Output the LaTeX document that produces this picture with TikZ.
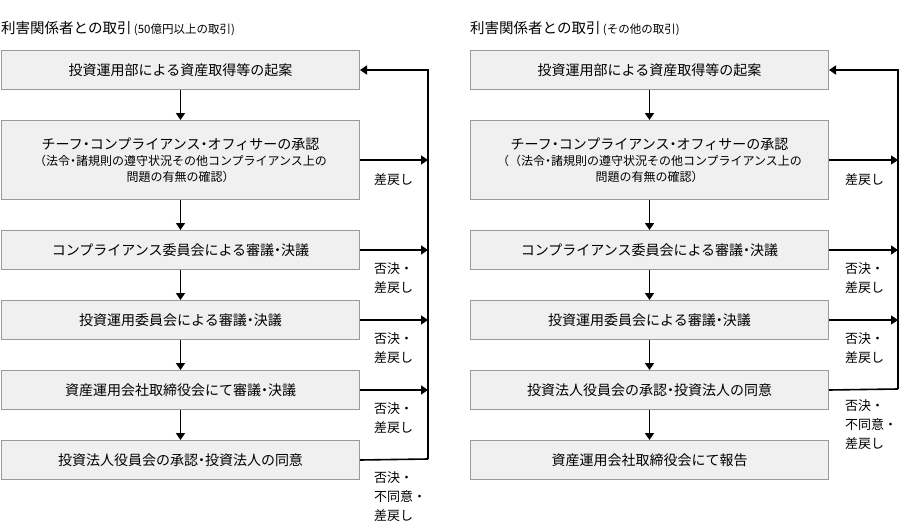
\documentclass[tikz,border=0pt]{standalone}
\usepackage{fontspec}
\setmainfont{Noto Sans CJK JP}
\usetikzlibrary{arrows.meta}
\definecolor{boxfill}{HTML}{F0F0F0}
\definecolor{boxline}{HTML}{9A9A9A}
\newcommand{\hdot}{{\addfontfeature{RawFeature=+halt}・}}
\begin{document}
\begin{tikzpicture}[x=1pt,y=-1pt,
  stagebox/.style={draw=boxline, fill=boxfill, line width=1pt, minimum width=358pt,
    minimum height=39pt, inner sep=0pt, align=center,
    font=\fontsize{14}{16}\selectfont, anchor=north west},
  flow/.style={line width=1.6pt, -{Triangle[width=9pt,length=7pt]}},
  back/.style={line width=1.6pt},
  lbl/.style={anchor=north west, align=left, inner sep=0pt,
    font=\fontsize{13}{19}\selectfont},
  ttl/.style={anchor=base west, inner sep=0pt}]
\useasboundingbox (0,0) rectangle (900,530);

% ---------------- left column ----------------
\node[ttl] (tL) at (1,33) {\fontsize{14.5}{16}\selectfont 利害関係者との取引\,\fontsize{11.5}{12}\selectfont(50億円以上の取引)};
\node[stagebox] (a1) at (1,50) {投資運用部による資産取得等の起案};
\node[stagebox, minimum height=79pt] (a2) at (1,120) {チーフ\hdot コンプライアンス\hdot オフィサーの承認\\{\fontsize{12}{16}\selectfont（法令\hdot 諸規則の遵守状況その他コンプライアンス上の}\\{\fontsize{12}{16}\selectfont 問題の有無の確認）}};
\node[stagebox] (a3) at (1,230) {コンプライアンス委員会による審議\hdot 決議};
\node[stagebox] (a4) at (1,300) {投資運用委員会による審議\hdot 決議};
\node[stagebox] (a5) at (1,370) {資産運用会社取締役会にて審議\hdot 決議};
\node[stagebox] (a6) at (1,440) {投資法人役員会の承認\hdot 投資法人の同意};

\draw[flow] (a1) -- (a2);
\draw[flow] (a2) -- (a3);
\draw[flow] (a3) -- (a4);
\draw[flow] (a4) -- (a5);
\draw[flow] (a5) -- (a6);

\coordinate (rL) at (428,459);
\draw[back] (a6.east) -- (rL);
\draw[flow] (rL) |- (a1.east);
\draw[flow] (a2.east) -- (a2.east -| rL);
\draw[flow] (a3.east) -- (a3.east -| rL);
\draw[flow] (a4.east) -- (a4.east -| rL);
\draw[flow] (a5.east) -- (a5.east -| rL);

\node[lbl] (la2) at (374,173) {差戻し};
\node[lbl] (la3) at (374,262) {否決・\\差戻し};
\node[lbl] (la4) at (374,332) {否決・\\差戻し};
\node[lbl] (la5) at (374,402) {否決・\\差戻し};
\node[lbl] (la6) at (374,471) {否決・\\不同意・\\差戻し};

% ---------------- right column ----------------
\node[ttl] (tR) at (470,33) {\fontsize{14.5}{16}\selectfont 利害関係者との取引\,\fontsize{11.5}{12}\selectfont(その他の取引)};
\node[stagebox] (b1) at (470,50) {投資運用部による資産取得等の起案};
\node[stagebox, minimum height=79pt] (b2) at (470,120) {チーフ\hdot コンプライアンス\hdot オフィサーの承認\\{\fontsize{12}{16}\selectfont（（法令\hdot 諸規則の遵守状況その他コンプライアンス上の}\\{\fontsize{12}{16}\selectfont 問題の有無の確認）}};
\node[stagebox] (b3) at (470,230) {コンプライアンス委員会による審議\hdot 決議};
\node[stagebox] (b4) at (470,300) {投資運用委員会による審議\hdot 決議};
\node[stagebox] (b5) at (470,370) {投資法人役員会の承認\hdot 投資法人の同意};
\node[stagebox] (b6) at (470,440) {資産運用会社取締役会にて報告};

\draw[flow] (b1) -- (b2);
\draw[flow] (b2) -- (b3);
\draw[flow] (b3) -- (b4);
\draw[flow] (b4) -- (b5);
\draw[flow] (b5) -- (b6);

\coordinate (rR) at (898,389);
\draw[back] (b5.east) -- (rR);
\draw[flow] (rR) |- (b1.east);
\draw[flow] (b2.east) -- (b2.east -| rR);
\draw[flow] (b3.east) -- (b3.east -| rR);
\draw[flow] (b4.east) -- (b4.east -| rR);

\node[lbl] (lb2) at (845,173) {差戻し};
\node[lbl] (lb3) at (845,262) {否決・\\差戻し};
\node[lbl] (lb4) at (845,332) {否決・\\差戻し};
\node[lbl] (lb5) at (845,399) {否決・\\不同意・\\差戻し};
\end{tikzpicture}
\end{document}
